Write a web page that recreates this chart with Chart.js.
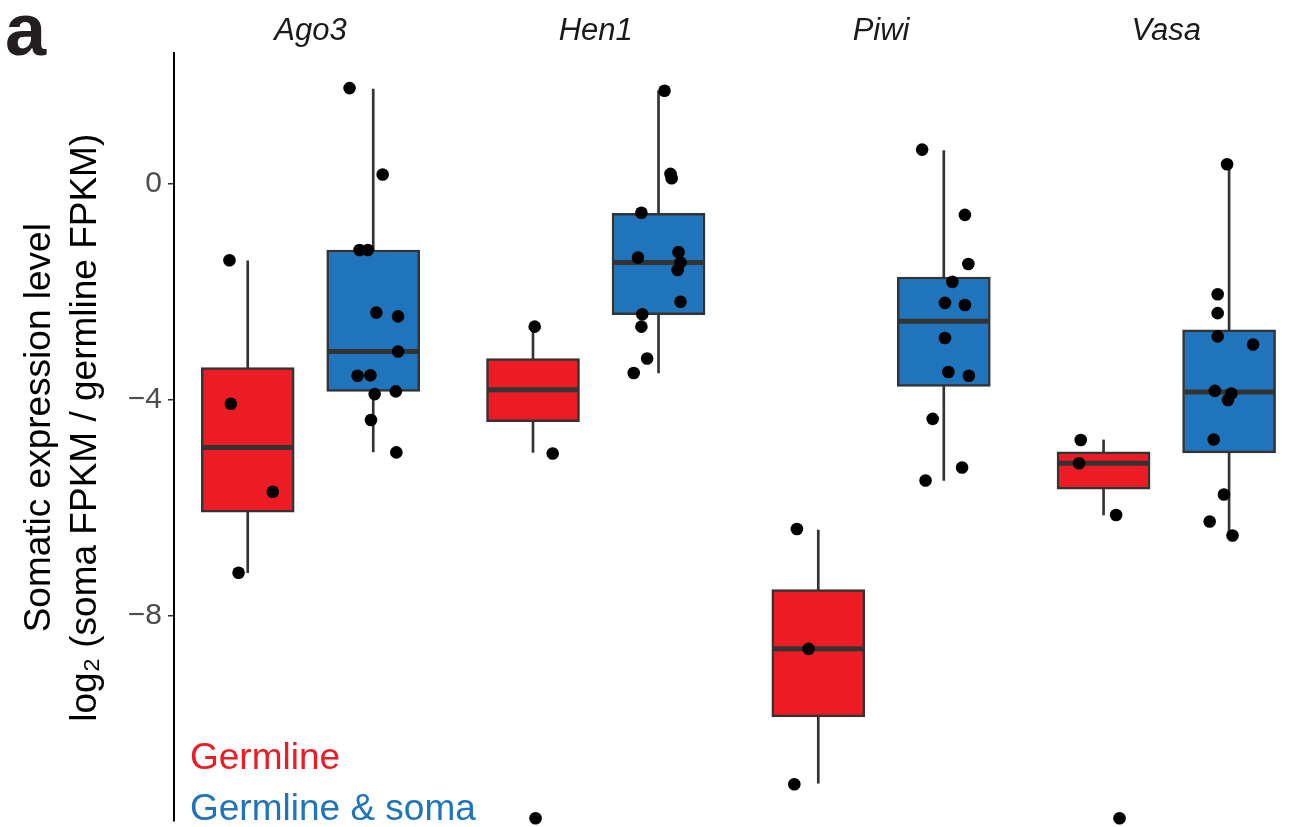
<!DOCTYPE html>
<html>
<head>
<meta charset="utf-8">
<script src="https://cdn.jsdelivr.net/npm/chart.js@4.4.1/dist/chart.umd.min.js"></script>
<style>
  html, body { margin: 0; padding: 0; background: #fff; }
  #wrap { width: 1310px; height: 827px; position: relative; }
</style>
</head>
<body>
<div id="wrap"><canvas id="chart"></canvas></div>
<script>
const genes = ['Ago3', 'Hen1', 'Piwi', 'Vasa'];
const groupNames = ['Germline', 'Germline & soma'];
const yTickValues = [-8, -4, 0];

// box statistics, one value per gene (log2 ratio)
const germLow  = [-7.20, -4.97, -11.10, -6.13];
const germQ1   = [-6.08, -4.40,  -9.87, -5.65];
const germMed  = [-4.88, -3.81,  -8.61, -5.17];
const germQ3   = [-3.40, -3.23,  -7.51, -4.96];
const germHigh = [-1.42, -2.64,  -6.41, -4.74];

const somaLow  = [-4.96, -3.50, -5.49, -6.51];
const somaQ1   = [-3.84, -2.42, -3.75, -4.98];
const somaMed  = [-3.10, -1.45, -2.54, -3.85];
const somaQ3   = [-1.22, -0.54, -1.72, -2.70];
const somaHigh = [ 1.76,  1.73,  0.62,  0.38];

// individual genes (points), per gene
const germPoints = [
  [-1.41, -4.07, -5.70, -7.20],
  [-2.64, -4.99, -11.75],
  [-6.39, -8.61, -11.12],
  [-4.74, -5.17, -6.13, -11.75]
];
const somaPoints = [
  [1.78, 0.18, -1.22, -1.22, -2.38, -2.45, -3.10, -3.55, -3.54, -3.89, -3.84, -4.37, -4.97],
  [-0.53, -1.36, -2.41, -2.64, -3.23, -3.50, 1.73, 0.19, 0.11, -1.26, -1.45, -1.59, -2.18],
  [0.64, -0.57, -1.48, -1.81, -2.20, -2.24, -2.85, -3.48, -3.55, -4.35, -5.25, -5.49],
  [0.37, -2.04, -2.39, -2.82, -2.97, -3.83, -3.88, -4.00, -4.73, -5.75, -6.25, -6.51]
];
// horizontal jitter of each point (category units)
const germJitter = [
  [-0.064, -0.059, 0.088, -0.032],
  [0.006, 0.069, 0.009],
  [-0.075, -0.034, -0.084],
  [-0.080, -0.086, 0.044, 0.056]
];
const somaJitter = [
  [-0.083, 0.033, -0.048, -0.019, 0.011, 0.087, 0.087, -0.055, -0.010, 0.005, 0.079, -0.008, 0.081],
  [-0.060, -0.072, -0.057, -0.060, -0.040, -0.087, 0.021, 0.042, 0.046, 0.070, 0.077, 0.067, 0.077],
  [-0.076, 0.074, 0.086, 0.030, 0.004, 0.074, 0.004, 0.016, 0.088, -0.039, 0.064, -0.064],
  [-0.007, -0.040, -0.040, -0.040, 0.084, -0.050, 0.008, -0.004, -0.054, -0.018, -0.068, 0.012]
];

const RED = '#ED1C24';
const BLUE = '#1F74BB';
const EDGE = '#333333';
const DODGE = 0.22;
const FONT = '"Liberation Sans", Arial, Helvetica, sans-serif';

function xPos(i, side) {
  return i + 1 + side * DODGE;
}

function boxData(q1, q3, side) {
  return genes.map((g, i) => ({ x: xPos(i, side), y: [q1[i], q3[i]] }));
}

function whiskerData(lo, hi, side) {
  return genes.map((g, i) => ({ x: xPos(i, side), y: [lo[i], hi[i]] }));
}

function medianData(med, side) {
  return genes.map((g, i) => ({ x: xPos(i, side), y: med[i] }));
}

function pointData(pts, jit, side) {
  const out = [];
  pts.forEach((arr, i) => {
    arr.forEach((v, k) => out.push({ x: xPos(i, side) + jit[i][k], y: v }));
  });
  return out;
}

const whiskerStyle = {
  type: 'bar', grouped: false, barThickness: 2, backgroundColor: EDGE,
  borderWidth: 0, order: 4
};
const boxStyle = {
  type: 'bar', grouped: false, barThickness: 93, borderColor: EDGE,
  borderWidth: 2.5, borderSkipped: false, order: 3
};
const medianStyle = {
  type: 'scatter', pointStyle: 'line', pointRadius: 45, borderColor: EDGE,
  borderWidth: 5, order: 2
};
const pointStyle = {
  type: 'scatter', pointRadius: 6.3, backgroundColor: '#000', borderWidth: 0,
  order: 1, clip: false
};

// panel letter and the coloured group key inside the plot
const labelsPlugin = {
  id: 'panelText',
  afterDraw(chart) {
    const ctx = chart.ctx;
    const area = chart.chartArea;
    ctx.save();
    ctx.textAlign = 'left';
    ctx.textBaseline = 'alphabetic';
    ctx.fillStyle = '#231F20';
    ctx.font = 'bold 74px ' + FONT;
    ctx.fillText('a', 5, 55);
    ctx.font = '37px ' + FONT;
    ctx.fillStyle = RED;
    ctx.fillText(groupNames[0], area.left + 16, 769);
    ctx.fillStyle = BLUE;
    ctx.fillText(groupNames[1], area.left + 16, 820);
    ctx.restore();
  }
};

const ctx = document.getElementById('chart').getContext('2d');
const chart = new Chart(ctx, {
  type: 'scatter',
  data: {
    datasets: [
      Object.assign({ label: 'germ whisker', data: whiskerData(germLow, germHigh, -1) }, whiskerStyle),
      Object.assign({ label: 'soma whisker', data: whiskerData(somaLow, somaHigh, 1) }, whiskerStyle),
      Object.assign({ label: groupNames[0], data: boxData(germQ1, germQ3, -1), backgroundColor: RED }, boxStyle),
      Object.assign({ label: groupNames[1], data: boxData(somaQ1, somaQ3, 1), backgroundColor: BLUE }, boxStyle),
      Object.assign({ label: 'germ median', data: medianData(germMed, -1) }, medianStyle),
      Object.assign({ label: 'soma median', data: medianData(somaMed, 1) }, medianStyle),
      Object.assign({ label: 'germ genes', data: pointData(germPoints, germJitter, -1) }, pointStyle),
      Object.assign({ label: 'soma genes', data: pointData(somaPoints, somaJitter, 1) }, pointStyle)
    ]
  },
  options: {
    responsive: true,
    maintainAspectRatio: false,
    animation: false,
    events: [],
    layout: { autoPadding: false, padding: { left: 0, top: 0, right: 0, bottom: 6 } },
    plugins: {
      legend: { display: false },
      tooltip: { enabled: false }
    },
    scales: {
      x: {
        type: 'linear',
        position: 'top',
        min: 0.5216,
        max: 4.5036,
        offset: false,
        grid: { display: false, drawTicks: false },
        border: { display: false },
        ticks: {
          padding: 3,
          color: '#1A1A1A',
          font: { family: FONT, size: 31, style: 'italic' },
          callback: (v) => genes[v - 1] || ''
        },
        afterBuildTicks: (s) => { s.ticks = genes.map((g, i) => ({ value: i + 1 })); },
        afterFit: (s) => { s.height = 53; s.paddingLeft = 0; s.paddingRight = 0; }
      },
      y: {
        type: 'linear',
        min: -11.8,
        max: 2.43,
        grid: { display: true, drawOnChartArea: false, drawTicks: true, tickLength: 6, color: EDGE, lineWidth: 1.5 },
        border: { display: true, color: '#000', width: 2 },
        ticks: {
          padding: 6,
          color: '#4D4D4D',
          font: { family: FONT, size: 30 },
          callback: (v) => (v < 0 ? '\u2212' + Math.abs(v) : String(v))
        },
        afterBuildTicks: (s) => { s.ticks = yTickValues.map((v) => ({ value: v })); },
        afterFit: (s) => { s.width = 174; s.paddingTop = 0; s.paddingBottom = 0; },
        title: {
          display: true,
          text: ['\u2002Somatic expression level', '\u2002log\u2082 (soma FPKM / germline FPKM)'],
          color: '#000',
          font: { family: FONT, size: 37, lineHeight: 1.24 },
          padding: { top: 17, bottom: 0 }
        }
      }
    }
  },
  plugins: [labelsPlugin]
});
</script>
</body>
</html>
